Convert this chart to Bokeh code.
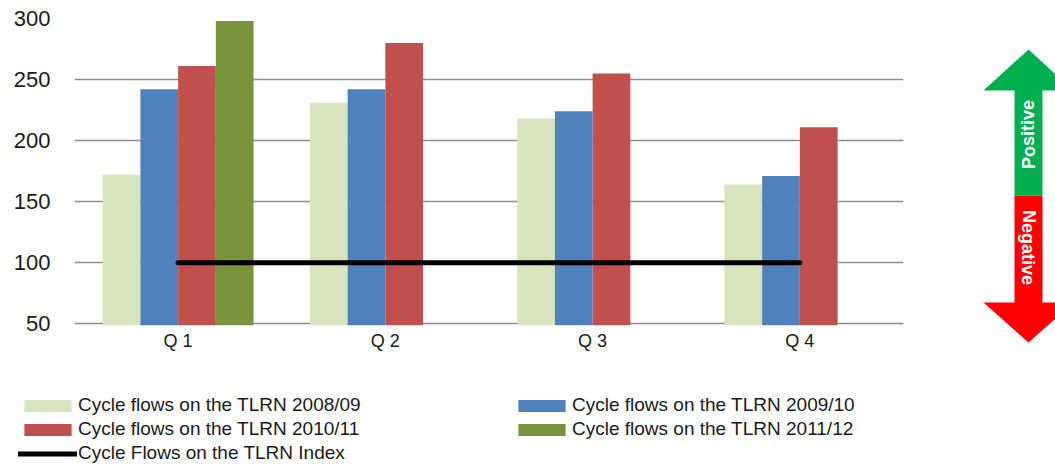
import math
from bokeh.plotting import figure
from bokeh.layouts import row, column
from bokeh.models import (ColumnDataSource, FactorRange, Range1d, FixedTicker,
                          Legend, LegendItem)
from bokeh.transform import dodge
from bokeh.core.properties import value
from bokeh.embed import file_html
from bokeh.resources import INLINE

# ---------------- data ----------------
quarters = ["Q 1", "Q 2", "Q 3", "Q 4"]
flows_0809 = [172, 231, 218, 164]
flows_0910 = [242, 242, 224, 171]
flows_1011 = [261, 280, 255, 211]
flows_1112 = [298, float("nan"), float("nan"), float("nan")]
index_vals = [100, 100, 100, 100]
y_ticks = [50, 100, 150, 200, 250, 300]

labels = ["Cycle flows on the TLRN 2008/09", "Cycle flows on the TLRN 2009/10",
          "Cycle flows on the TLRN 2010/11", "Cycle flows on the TLRN 2011/12",
          "Cycle Flows on the TLRN Index"]
colors = ["#D7E4BD", "#4F81BD", "#C0504D", "#77933C"]

FONT = "Liberation Sans"
TXT = "#1a1a1a"

src = ColumnDataSource(dict(q=quarters, a=flows_0809, b=flows_0910,
                            c=flows_1011, d=flows_1112, idx=index_vals))
series_cols = ["a", "b", "c", "d"]

p = figure(width=960, height=385, x_range=FactorRange(*quarters),
           y_range=Range1d(48.5, 300), output_backend="svg",
           toolbar_location=None, min_border_left=74, min_border_right=57,
           min_border_top=18, min_border_bottom=60)
p.outline_line_color = None
p.background_fill_color = "white"

w = 0.182
offs = [-1.5 * w, -0.5 * w, 0.5 * w, 1.5 * w]
for col, off, c in zip(series_cols, offs, colors):
    p.vbar(x=dodge("q", off, range=p.x_range), top=col, bottom=0, width=w,
           source=src, fill_color=c, line_color=None)

p.line(x="q", y="idx", source=src, line_color="black", line_width=5,
       line_cap="round")

# axes
p.yaxis.ticker = FixedTicker(ticks=y_ticks)
p.yaxis.axis_line_color = None
p.yaxis.major_tick_line_color = None
p.yaxis.major_tick_out = 0
p.yaxis.minor_tick_line_color = None
p.yaxis.minor_tick_out = 0
p.yaxis.major_label_standoff = 24
p.yaxis.major_label_text_font = FONT
p.yaxis.major_label_text_font_size = "22px"
p.yaxis.major_label_text_color = TXT

p.xaxis.axis_line_color = None
p.xaxis.major_tick_line_color = None
p.xaxis.major_tick_out = 0
p.xaxis.minor_tick_line_color = None
p.xaxis.minor_tick_out = 0
p.xaxis.major_label_standoff = 5
p.xaxis.major_label_text_font = FONT
p.xaxis.major_label_text_font_size = "18px"
p.xaxis.major_label_text_color = TXT

p.xgrid.grid_line_color = None
p.ygrid.ticker = FixedTicker(ticks=y_ticks)
p.ygrid.grid_line_color = "#8f8f8f"
p.ygrid.grid_line_width = 1.5

# ---------------- legend strip (same data, kept outside its visible range) ----------------
p3 = figure(width=960, height=79, x_range=FactorRange(*quarters),
            y_range=Range1d(5000, 5100), output_backend="svg",
            toolbar_location=None, min_border=0)
p3.axis.visible = False
p3.grid.visible = False
p3.outline_line_color = None
leg_r = [p3.vbar(x="q", top=col, bottom=0, width=0.0001, source=src,
                 fill_color=c, line_color=None)
         for col, c in zip(series_cols, colors)]
leg_l = p3.line(x="q", y="idx", source=src, line_color="black", line_width=5,
                line_cap="round")

common = dict(padding=0, margin=0, spacing=2, glyph_width=59, glyph_height=15,
              label_height=17, label_standoff=1, label_text_font=FONT,
              label_text_font_size="19px", label_text_color=TXT,
              label_text_baseline="middle",
              border_line_color=None, background_fill_alpha=0)
leg1 = Legend(items=[LegendItem(label=labels[0], renderers=[leg_r[0]]),
                     LegendItem(label=labels[2], renderers=[leg_r[2]]),
                     LegendItem(label=labels[4], renderers=[leg_l])],
              location=(18, 0), **common)
leg2 = Legend(items=[LegendItem(label=labels[1], renderers=[leg_r[1]]),
                     LegendItem(label=labels[3], renderers=[leg_r[3]])],
              location=(512, 24), **common)
p3.add_layout(leg1, "center")
p3.add_layout(leg2, "center")

# ---------------- arrow indicator ----------------
arrow_up_x = [1028, 983, 1014, 1014, 1042, 1042, 1073]
arrow_up_y = [49, 90, 90, 195, 195, 90, 90]
arrow_dn_x = [1014, 1014, 983, 1028, 1073, 1042, 1042]
arrow_dn_y = [195, 302, 302, 342, 302, 302, 195]

p2 = figure(width=95, height=464, x_range=Range1d(960, 1055),
            y_range=Range1d(464, 0), output_backend="svg",
            toolbar_location=None, min_border=0)
p2.axis.visible = False
p2.grid.visible = False
p2.outline_line_color = None
p2.patch(arrow_up_x, arrow_up_y, fill_color="#00B050", line_color=None)
p2.patch(arrow_dn_x, arrow_dn_y, fill_color="#FF0000", line_color=None)
p2.text(x=[1028], y=[134], text=["Positive"], angle=[math.pi / 2],
        text_align="center", text_baseline="middle", text_color="white",
        text_font=value(FONT), text_font_style="bold", text_font_size="18px")
p2.text(x=[1028], y=[247], text=["Negative"], angle=[-math.pi / 2],
        text_align="center", text_baseline="middle", text_color="white",
        text_font=value(FONT), text_font_style="bold", text_font_size="18px")

layout = row(column(row(p), p3), p2)
open("out.html", "w").write(file_html(layout, INLINE))
